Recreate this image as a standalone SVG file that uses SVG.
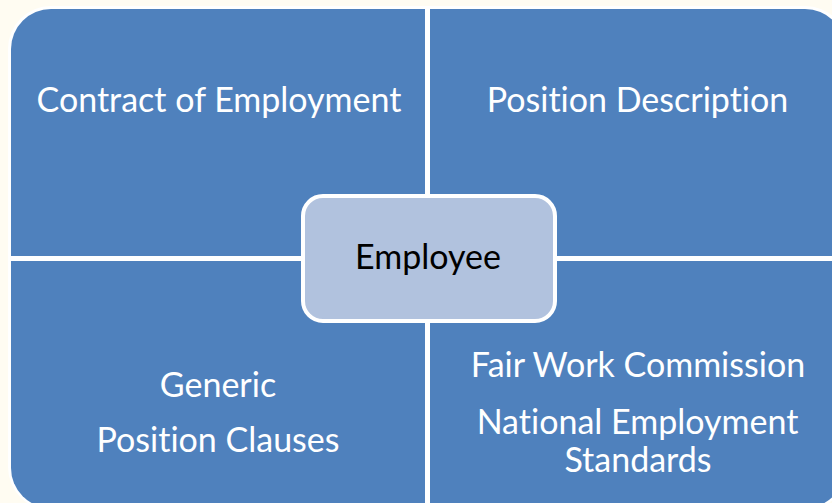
<svg xmlns="http://www.w3.org/2000/svg" width="832" height="503" viewBox="0 0 832 503">
<style>
.q{fill:#4f81bd;}
.t,.c{font-family:Lato,"Open Sans",sans-serif;font-size:34px;text-anchor:middle;font-variant-ligatures:none;font-feature-settings:"liga" 0;}
.t{fill:#ffffff;}
.c{fill:#000000;}
</style>
<rect x="0" y="0" width="832" height="503" fill="#fffcf2"/>
<rect x="8" y="6" width="840" height="504" rx="43" fill="#ffffff"/>
<g id="contract">
<path class="q" d="M11 49 A40 40 0 0 1 51 9 H425 V256 H11 Z"/>
<text class="t" x="219" y="112">Contract of Employment</text>
</g>
<g id="position-description">
<path class="q" d="M430 9 H805 A40 40 0 0 1 845 49 V256 H430 Z"/>
<text class="t" x="637.5" y="112">Position Description</text>
</g>
<g id="generic">
<path class="q" d="M11 261 H425 V508 H51 A40 40 0 0 1 11 468 Z"/>
<text class="t" x="218" y="397">Generic</text>
<text class="t" x="218" y="452">Position Clauses</text>
</g>
<g id="fair-work">
<path class="q" d="M430 261 H845 V468 A40 40 0 0 1 805 508 H430 Z"/>
<text class="t" x="638" y="377">Fair Work Commission</text>
<text class="t" x="637.5" y="434">National Employment</text>
<text class="t" x="638" y="472">Standards</text>
</g>
<g id="connectors"></g>
<g id="employee">
<rect x="303" y="196" width="252" height="125" rx="20" fill="#b1c2de" stroke="#ffffff" stroke-width="4"/>
<text class="c" x="428" y="269">Employee</text>
</g>
</svg>
